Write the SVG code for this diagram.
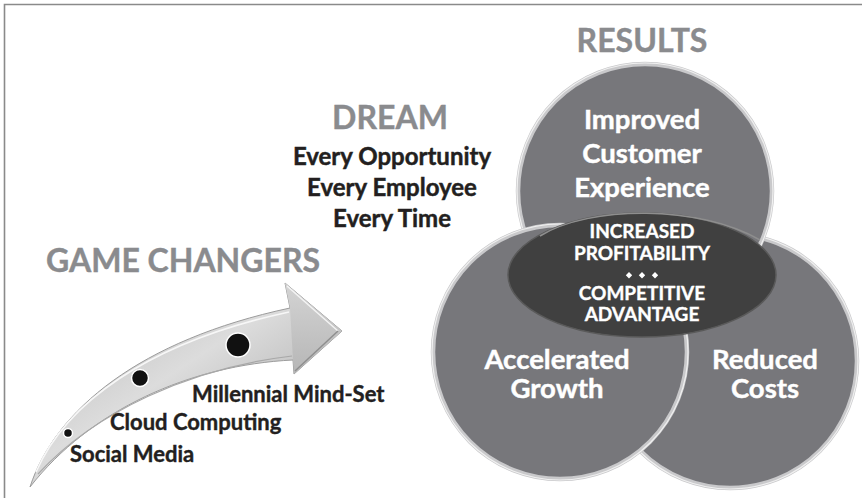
<svg xmlns="http://www.w3.org/2000/svg" width="862" height="498" viewBox="0 0 862 498">
<defs>
<style>
.t{font-family:Lato,"Open Sans","Liberation Sans",sans-serif;font-weight:bold;text-anchor:middle}
.head{fill:#8a8b8e;font-size:32px;stroke:#8a8b8e;stroke-width:0.4}
.dream{fill:#231f20;font-size:24px;stroke:#231f20;stroke-width:0.45}
.cw{fill:#ffffff;font-size:27.5px;stroke:#ffffff;stroke-width:0.45}
.ew{fill:#ffffff;font-size:19px;stroke:#ffffff;stroke-width:0.35}
.lab{font-family:Lato,"Open Sans","Liberation Sans",sans-serif;font-weight:bold;fill:#231f20;font-size:22px;stroke:#231f20;stroke-width:0.4}
.circ{fill:#77777b;stroke:#c9c9cb;stroke-width:4.5}
.rim{fill:none;stroke:#f0f0f0;stroke-width:1.2}
.dot{fill:#111111;stroke:#ffffff;stroke-width:1.5}
.dia{fill:#ffffff}
</style>
<linearGradient id="arrowG" x1="0" y1="0" x2="1" y2="1">
<stop offset="0" stop-color="#b0b0b0"/>
<stop offset="0.45" stop-color="#dcdcdc"/>
<stop offset="1" stop-color="#999999"/>
</linearGradient>
<linearGradient id="headG" x1="0" y1="0" x2="0" y2="1">
<stop offset="0" stop-color="#d4d4d4"/>
<stop offset="1" stop-color="#b6b6b6"/>
</linearGradient>
</defs>
<rect width="862" height="498" fill="#ffffff"/>
<path d="M4.5,498 V4.5 H862" fill="none" stroke="#8a8a8a" stroke-width="1.6"/>

<g id="game-changers-title">
<text class="t head" x="183" y="272">GAME CHANGERS</text>
</g>

<g id="arrow">
<path d="M30,487 C55,410 140,340 290,308 L285,283 L342,331 L294,374 L293,360 C190,365 90,410 30,487 Z" fill="url(#arrowG)" stroke="#9c9c9c" stroke-width="1"/>
<path d="M290,308 L285,283 L342,331 L294,374 L293,360 Z" fill="url(#headG)"/>
<path d="M287,286 L338,331" stroke="#f4f4f4" stroke-width="1.5" fill="none"/>
<path d="M338,331 L295,371" stroke="#8f8f8f" stroke-width="1.5" fill="none"/>
<path d="M36,472 C65,405 145,343 289,312" fill="none" stroke="#f7f7f7" stroke-width="1.6"/>
<path d="M38,474 C95,412 190,368 292,356" fill="none" stroke="#a8a8a8" stroke-width="1.2"/>
</g>

<g id="node-social-media">
<circle class="dot" cx="68" cy="433" r="4.5"/>
<text class="lab" x="70" y="462">Social Media</text>
</g>
<g id="node-cloud-computing">
<circle class="dot" cx="140" cy="378" r="8.5"/>
<text class="lab" x="110" y="430">Cloud Computing</text>
</g>
<g id="node-millennial">
<circle class="dot" cx="238" cy="345" r="12"/>
<text class="lab" x="192" y="402">Millennial Mind-Set</text>
</g>

<g id="dream">
<text class="t head" x="390" y="129">DREAM</text>
<text class="t dream" x="392" y="165">Every Opportunity</text>
<text class="t dream" x="392" y="196">Every Employee</text>
<text class="t dream" x="392" y="227">Every Time</text>
</g>

<g id="results-title">
<text class="t head" x="642" y="52">RESULTS</text>
</g>

<g id="node-reduced-costs">
<circle class="circ" cx="730" cy="361" r="127"/>
<circle class="rim" cx="730" cy="361" r="128"/>
<text class="t cw" x="765" y="369">Reduced</text>
<text class="t cw" x="765" y="398">Costs</text>
</g>

<g id="node-improved-customer-experience">
<circle class="circ" cx="645" cy="191" r="127"/>
<circle class="rim" cx="645" cy="191" r="128"/>
<text class="t cw" x="642" y="129">Improved</text>
<text class="t cw" x="642" y="163">Customer</text>
<text class="t cw" x="642" y="197">Experience</text>
</g>

<g id="node-accelerated-growth">
<circle class="circ" cx="560" cy="352" r="127"/>
<circle class="rim" cx="560" cy="352" r="128"/>
<text class="t cw" x="557" y="369">Accelerated</text>
<text class="t cw" x="557" y="398">Growth</text>
</g>

<g id="node-center">
<ellipse cx="642" cy="275" rx="134" ry="62" fill="#404040" stroke="#5a5a5a" stroke-width="1.5"/>
<path d="M540,236 C590,205 700,205 760,240" fill="none" stroke="#8e8e8e" stroke-width="1.5"/>
<text class="t ew" x="642" y="238">INCREASED</text>
<text class="t ew" x="642" y="260">PROFITABILITY</text>
<path class="dia" d="M629,272 l3.2,3.2 l-3.2,3.2 l-3.2,-3.2 Z M642,272 l3.2,3.2 l-3.2,3.2 l-3.2,-3.2 Z M655,272 l3.2,3.2 l-3.2,3.2 l-3.2,-3.2 Z"/>
<text class="t ew" x="642" y="300">COMPETITIVE</text>
<text class="t ew" x="642" y="321">ADVANTAGE</text>
</g>

<g id="connectors"></g>
</svg>
